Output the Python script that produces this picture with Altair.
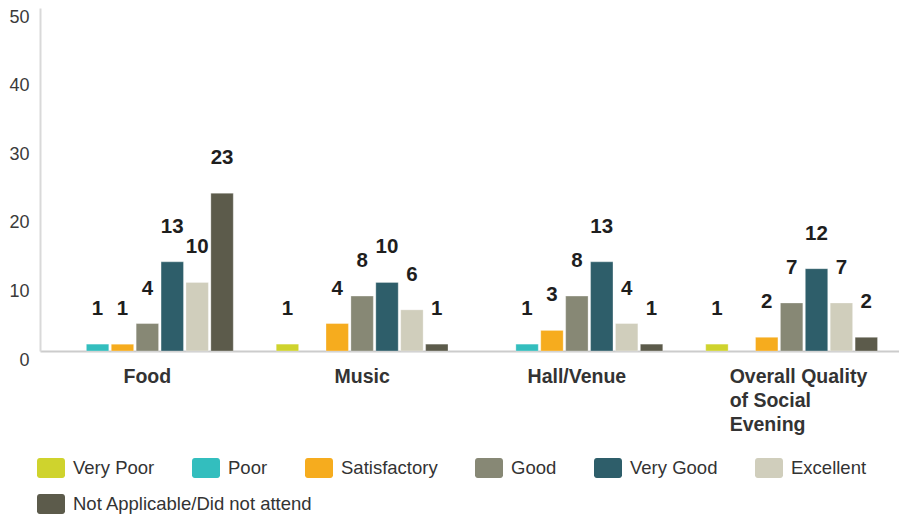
import altair as alt
import pandas as pd

categories = ["Food", "Music", "Hall/Venue", "Overall Quality of Social Evening"]
ratings = ["Very Poor", "Poor", "Satisfactory", "Good", "Very Good", "Excellent",
           "Not Applicable/Did not attend"]
colors = ["#cfd32d", "#33bebe", "#f6ac1e", "#878875", "#2e5e6a", "#d0cebc", "#5c5b4b"]

food = [0, 1, 1, 4, 13, 10, 23]
music = [1, 0, 4, 8, 10, 6, 1]
hall = [0, 1, 3, 8, 13, 4, 1]
overall = [1, 0, 2, 7, 12, 7, 2]

y_grid = [0, 5, 10, 15, 20, 25, 30, 35, 40, 45, 50]

rows = []
for cat, vals in zip(categories, [food, music, hall, overall]):
    for r, v in zip(ratings, vals):
        rows.append({"category": cat, "rating": r, "value": v})
df = pd.DataFrame(rows)

legend_symbol = ("M-0.8,-0.714H0.8A0.2,0.2 0 0 1 1,-0.514V0.514A0.2,0.2 0 0 1 0.8,0.714"
                 "H-0.8A0.2,0.2 0 0 1 -1,0.514V-0.514A0.2,0.2 0 0 1 -0.8,-0.714Z")

label_expr = ("datum.value == 'Overall Quality of Social Evening' ? "
              "['Overall Quality', 'of Social', 'Evening'] : datum.value")

legend_common = dict(
    title=None,
    orient="none",
    legendX=-3,
    direction="horizontal",
    symbolType=legend_symbol,
    symbolSize=784,
    symbolStrokeWidth=0,
    symbolOpacity=1,
    labelFont="Liberation Sans",
    labelFontSize=18.5,
    labelColor="#333333",
    labelOffset=8,
    labelLimit=400,
    columnPadding=36,
    rowPadding=8,
)

x_enc = alt.X(
    "category:N",
    sort=categories,
    scale=alt.Scale(paddingInner=0.2, paddingOuter=0.1),
    axis=alt.Axis(
        title=None,
        labelAngle=0,
        labelExpr=label_expr,
        labelFont="Liberation Sans",
        labelFontWeight="bold",
        labelFontSize=19.5,
        labelColor="#333333",
        labelLineHeight=24,
        labelPadding=16,
        labelBaseline="top",
        labelAlign=alt.condition("datum.value == 'Overall Quality of Social Evening'",
                                 alt.value("left"), alt.value("center")),
        labelOffset=alt.condition("datum.value == 'Overall Quality of Social Evening'",
                                  alt.value(-62), alt.value(0)),
        ticks=False,
        domain=True,
        domainColor="#cccccc",
        domainWidth=2,
        grid=False,
    ),
)

y_enc = alt.Y(
    "value:Q",
    scale=alt.Scale(domain=[0, 50], nice=False),
    axis=alt.Axis(
        title=None,
        values=y_grid,
        labelExpr="datum.value % 10 == 0 ? datum.label : ''",
        labelFont="Liberation Sans",
        labelFontSize=18,
        labelColor="#3a3a3a",
        labelPadding=11,
        labelBaseline="middle",
        labelOffset=9,
        ticks=False,
        domain=True,
        domainColor="#d9d9d9",
        domainWidth=2,
        grid=True,
        gridColor="#ffffff",
        gridWidth=2,
        gridOpacity=1,
    ),
)

xoff = alt.XOffset("rating:N", sort=ratings,
                   scale=alt.Scale(domain=ratings, paddingInner=0.1, paddingOuter=0))

base = alt.Chart(df).transform_filter("datum.value > 0")

bars = base.mark_bar(stroke="#ffffff", strokeWidth=0.6, strokeOpacity=0.5).encode(
    x=x_enc,
    xOffset=xoff,
    y=y_enc,
    color=alt.Color(
        "rating:N",
        sort=ratings,
        scale=alt.Scale(domain=ratings, range=colors),
        legend=alt.Legend(values=ratings[:6], legendY=446, columns=6, **legend_common),
    ),
)

# second legend row (last rating) drawn from an invisible layer
na_layer = alt.Chart(df).transform_filter(
    alt.datum.rating == ratings[6]
).mark_square(size=0, filled=True).encode(
    fill=alt.Fill(
        "rating:N",
        scale=alt.Scale(domain=ratings[6:], range=colors[6:]),
        legend=alt.Legend(legendY=482, columns=1, **legend_common),
    ),
)

labels = base.mark_text(
    font="Liberation Sans",
    fontWeight="bold",
    fontSize=20.5,
    color="#1e1e1e",
    baseline="middle",
    align="center",
    dy=-35,
).encode(
    x=alt.X("category:N", sort=categories),
    xOffset=alt.XOffset("rating:N", sort=ratings),
    y=alt.Y("value:Q"),
    text=alt.Text("value:Q"),
)

chart = alt.layer(bars, labels, na_layer).resolve_legend(
    color="independent", fill="independent"
).properties(
    width=859,
    height=343,
    autosize=alt.AutoSizeParams(type="none"),
    padding={"left": 32, "top": 0, "right": 0, "bottom": 163},
).configure_view(
    fill="#efefef",
    stroke=None,
)

chart.save("out.html", embed_options={"renderer": "svg", "actions": False})
